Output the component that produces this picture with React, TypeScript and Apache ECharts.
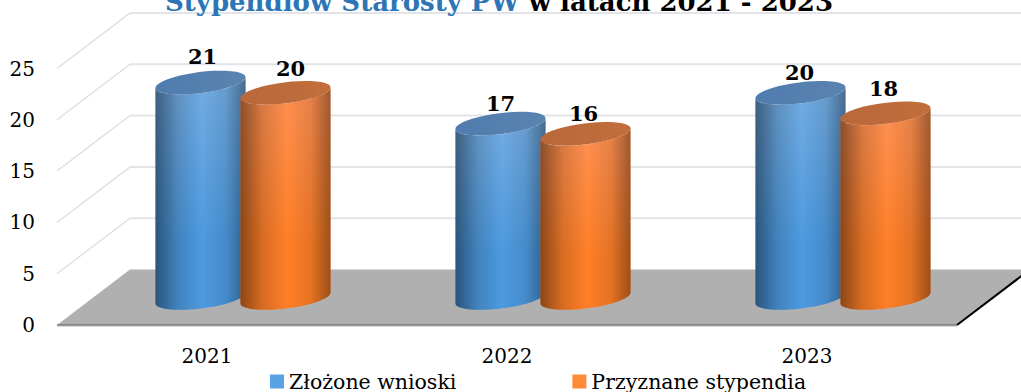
import React, { useEffect, useRef } from "react";
import * as echarts from "echarts";

const categories = ["2021", "2022", "2023"];
const zlozone = [21, 17, 20];
const przyznane = [20, 16, 18];
const yTicks = [0, 5, 10, 15, 20, 25];
const seriesNames = ["Złożone wnioski", "Przyznane stypendia"];

const FONT = "'DejaVu Serif', 'Liberation Serif', serif";
const DEPTH_X = 73;
const DEPTH_Y = 55.5;
const MID_X = 36;
const MID_Y = 27;
const RX = 45.4;
const RY = 10.5;
const PHI = (-7.2 * Math.PI) / 180;
const TANGENT = Math.atan2(-RY * Math.sin(PHI), RX * Math.cos(PHI));
const STEPS = 40;

// hand-placed data labels, as in the reference: offset from the centre of the cap
const blueLabelLift = [26, 20, 20];
const blueLabelShift = [2, 0, -1];
const orangeLabelLift = [24, 20, 25];
const orangeLabelShift = [5, -2, -2];

const blue = {
  body: ["#74ade4", "#4c9ae0"],
  top: ["#4f7cae", "#5a84b0"],
  legend: "#5aa2e6",
};
const orange = {
  body: ["#ff9153", "#ff7f27"],
  top: ["#b9683a", "#c26e3c"],
  legend: "#ff8a38",
};

function ellipsePoint(cx: number, cy: number, t: number) {
  return [
    cx + RX * Math.cos(t) * Math.cos(PHI) - RY * Math.sin(t) * Math.sin(PHI),
    cy + RX * Math.cos(t) * Math.sin(PHI) + RY * Math.sin(t) * Math.cos(PHI),
  ];
}

function arcPoints(cx: number, cy: number, from: number, to: number) {
  const pts: number[][] = [];
  for (let i = 0; i <= STEPS; i++) {
    pts.push(ellipsePoint(cx, cy, from + ((to - from) * i) / STEPS));
  }
  return pts;
}

function cylinder(palette: typeof blue, offset: number, lift: number[], shift: number[]) {
  return (params: any, api: any) => {
    const idx = api.value(0);
    const val = api.value(1);
    const top = api.coord([idx, val]);
    const base = api.coord([idx, 0]);
    const cx = top[0] + MID_X + offset;
    const yT = top[1] - MID_Y;
    const yB = base[1] - MID_Y;
    const side = [
      ...arcPoints(cx, yB, Math.PI + TANGENT, TANGENT),
      ...arcPoints(cx, yT, TANGENT, Math.PI + TANGENT),
    ];
    const cap = arcPoints(cx, yT, 0, Math.PI * 2);
    return {
      type: "group",
      children: [
        {
          type: "polygon",
          shape: { points: side },
          style: {
            fill: {
              type: "linear", x: 0, y: 0, x2: 0, y2: 1,
              colorStops: [
                { offset: 0, color: palette.body[0] },
                { offset: 0.7, color: palette.body[1] },
                { offset: 1, color: palette.body[1] },
              ],
            },
          },
        },
        {
          type: "polygon",
          shape: { points: side },
          style: {
            fill: {
              type: "linear", x: 0, y: 0, x2: 1, y2: 0,
              colorStops: [
                { offset: 0, color: "rgba(0,0,0,0.45)" },
                { offset: 0.25, color: "rgba(0,0,0,0.15)" },
                { offset: 0.52, color: "rgba(0,0,0,0)" },
                { offset: 0.78, color: "rgba(0,0,0,0.1)" },
                { offset: 1, color: "rgba(0,0,0,0.38)" },
              ],
            },
          },
        },
        {
          type: "polygon",
          shape: { points: cap },
          style: {
            fill: {
              type: "linear", x: 0, y: 0, x2: 1, y2: 0,
              colorStops: [
                { offset: 0, color: palette.top[0] },
                { offset: 1, color: palette.top[1] },
              ],
            },
          },
        },
        {
          type: "text",
          style: {
            text: String(val),
            x: cx + shift[idx],
            y: yT - lift[idx],
            textAlign: "center",
            textVerticalAlign: "middle",
            fontFamily: FONT,
            fontSize: 21,
            fontWeight: "bold",
            fill: "#000",
          },
        },
      ],
    };
  };
}

function renderWall(params: any, api: any) {
  const v = api.value(1);
  const y = api.coord([0, v])[1];
  const left = params.coordSys.x;
  const right = left + params.coordSys.width;
  if (v === 0) {
    return {
      type: "group",
      children: [
        {
          type: "polygon",
          shape: {
            points: [
              [left, y],
              [right, y],
              [right + DEPTH_X, y - DEPTH_Y],
              [left + DEPTH_X, y - DEPTH_Y],
            ],
          },
          style: { fill: "#b0b0b0" },
        },
        {
          type: "line",
          shape: { x1: left, y1: y + 1, x2: right, y2: y + 1 },
          style: { stroke: "#d9d9d9", lineWidth: 2 },
        },
        {
          type: "line",
          shape: { x1: left, y1: y, x2: right, y2: y },
          style: { stroke: "#5a5a5a", lineWidth: 1 },
        },
        {
          type: "line",
          shape: { x1: right, y1: y, x2: right + DEPTH_X, y2: y - DEPTH_Y },
          style: { stroke: "#000", lineWidth: 2 },
        },
        {
          type: "line",
          shape: { x1: left + DEPTH_X, y1: y - DEPTH_Y, x2: right + DEPTH_X, y2: y - DEPTH_Y },
          style: { stroke: "#d8d8d8", lineWidth: 1 },
        },
      ],
    };
  }
  return {
    type: "group",
    children: [
      {
        type: "line",
        shape: { x1: left, y1: y, x2: left + DEPTH_X, y2: y - DEPTH_Y },
        style: { stroke: "#dcdcdc", lineWidth: 1.2 },
      },
      {
        type: "line",
        shape: { x1: left + DEPTH_X, y1: y - DEPTH_Y, x2: right + DEPTH_X, y2: y - DEPTH_Y },
        style: { stroke: "#e3e3ea", lineWidth: 2 },
      },
    ],
  };
}

export default function App() {
  const ref = useRef<HTMLDivElement>(null);
  useEffect(() => {
    if (!ref.current) return;
    const chart = echarts.init(ref.current, undefined, { renderer: "svg" });
    chart.setOption({
      animation: false,
      backgroundColor: "#fff",
      title: {
        left: 165,
        top: -11,
        padding: 0,
        text: "{a|Stypendiów Starosty PW }{b|w latach 2021 - 2023}",
        textStyle: {
          rich: {
            a: { fontFamily: FONT, fontSize: 26, fontWeight: "bold", color: "#2e75b6" },
            b: { fontFamily: FONT, fontSize: 26, fontWeight: "bold", color: "#000" },
          },
        },
      },
      grid: { left: 57, right: 64, top: 68.5, bottom: 67 },
      xAxis: {
        type: "category",
        data: categories,
        axisLine: { show: false },
        axisTick: { show: false },
        splitLine: { show: false },
        axisLabel: { margin: 21, color: "#000", fontFamily: FONT, fontSize: 20 },
      },
      yAxis: {
        type: "value",
        min: 0,
        max: 25,
        interval: 5,
        axisLine: { show: false },
        axisTick: { show: false },
        splitLine: { show: false },
        axisLabel: {
          margin: 22,
          color: "#000",
          fontFamily: FONT,
          fontSize: 20,
        },
      },
      legend: {
        left: 270,
        top: 371,
        padding: 0,
        itemWidth: 14,
        itemHeight: 14,
        itemGap: 116,
        icon: "rect",
        data: seriesNames,
        textStyle: {
          fontFamily: FONT,
          fontSize: 20.5,
          color: "#000",
        },
      },
      series: [
        {
          type: "custom",
          name: "walls",
          silent: true,
          z: 1,
          data: yTicks.map((v) => [0, v]),
          encode: { x: 0, y: 1 },
          renderItem: renderWall,
        },
        {
          type: "custom",
          name: seriesNames[0],
          silent: true,
          z: 2,
          itemStyle: { color: blue.legend },
          data: zlozone.map((v, i) => [i, v]),
          encode: { x: 0, y: 1 },
          renderItem: cylinder(blue, -42.5, blueLabelLift, blueLabelShift),
        },
        {
          type: "custom",
          name: seriesNames[1],
          silent: true,
          z: 3,
          itemStyle: { color: orange.legend },
          data: przyznane.map((v, i) => [i, v]),
          encode: { x: 0, y: 1 },
          renderItem: cylinder(orange, 42.5, orangeLabelLift, orangeLabelShift),
        },
      ],
    });
    return () => chart.dispose();
  }, []);
  return (
    <div
      ref={ref}
      style={{ position: "fixed", left: 0, top: 0, width: 1021, height: 392, overflow: "hidden" }}
    />
  );
}
